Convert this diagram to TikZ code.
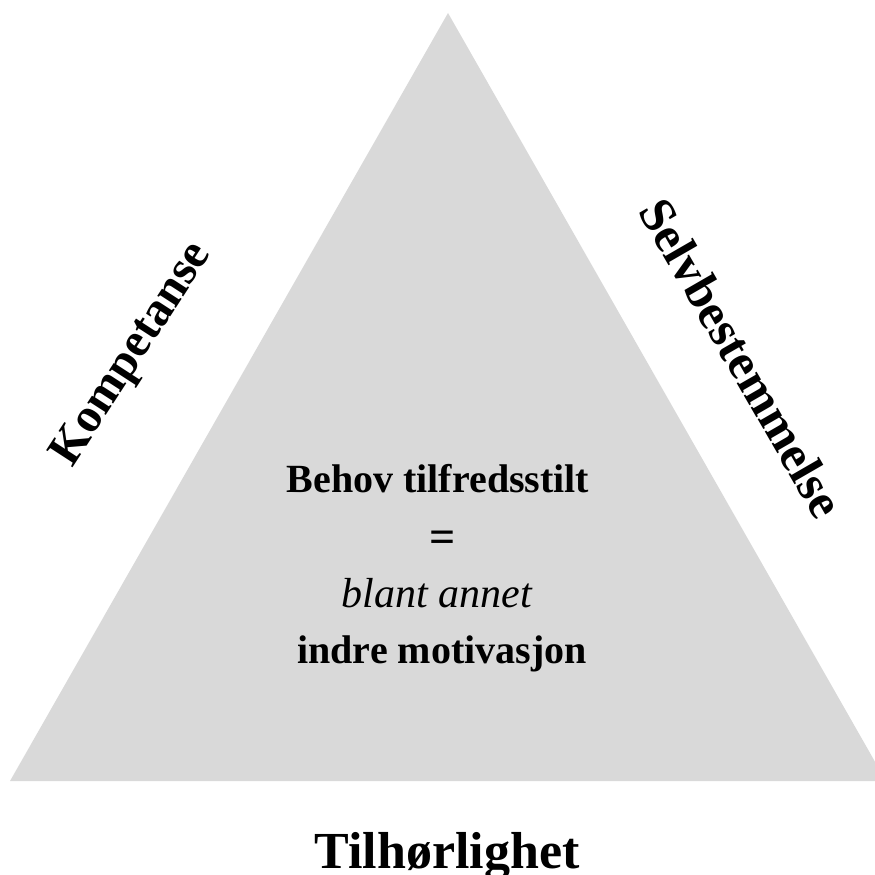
\documentclass[tikz,border=0pt]{standalone}
\usepackage{fontspec}
\setmainfont{Liberation Serif}
\definecolor{trigray}{HTML}{D9D9D9}
\begin{document}
\begin{tikzpicture}[x=1pt,y=-1pt,
  sidelabel/.style={font=\fontsize{48}{56}\selectfont\bfseries, inner sep=0pt},
  midtext/.style={font=\fontsize{40}{48}\selectfont\bfseries, anchor=base, inner sep=0pt},
  bottomlabel/.style={font=\fontsize{52}{60}\selectfont\bfseries, anchor=base, inner sep=0pt}]
\useasboundingbox (0,0) rectangle (875,875);
\clip (0,0) rectangle (875,875);
\fill[trigray] (448,13) -- (10,781) -- (886,781) -- cycle;
\node[sidelabel, rotate=57] (komp) at (133,355) {Kompetanse};
\node[sidelabel, rotate=-60, font=\fontsize{50}{58}\selectfont\bfseries] (selv) at (742,358) {Selvbestemmelse};
\node[midtext] (behov) at (438,492) {Behov tilfredsstilt};
\node[midtext, font=\fontsize{46}{52}\selectfont\bfseries] (eq) at (443,552) {=};
\node[midtext, font=\fontsize{42}{48}\selectfont\itshape] (blant) at (437,607) {blant annet};
\node[midtext] (indre) at (442,663) {indre motivasjon};
\node[bottomlabel] (tilh) at (447,868) {Tilhørlighet};
\end{tikzpicture}
\end{document}
